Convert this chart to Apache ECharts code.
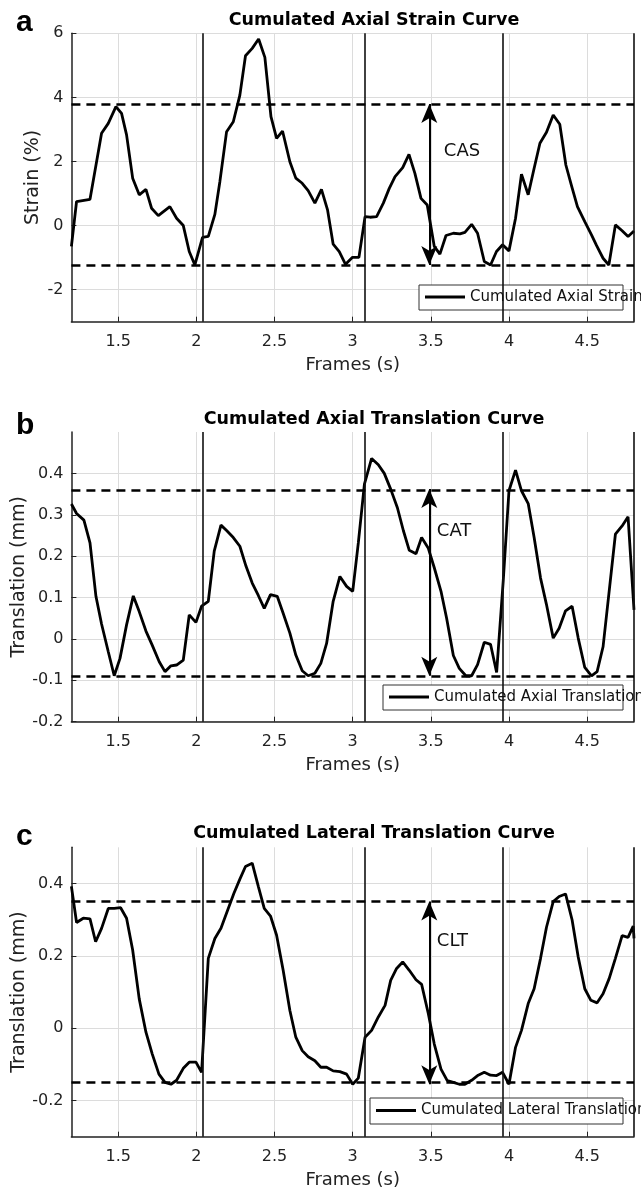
<!DOCTYPE html>
<html>
<head>
<meta charset="utf-8">
<title>Cumulated curves</title>
<script src="https://cdn.jsdelivr.net/npm/echarts@6/dist/echarts.min.js"></script>
<style>
  html, body { margin: 0; padding: 0; background: #fff; }
  #chart { width: 641px; height: 1192px; }
</style>
</head>
<body>
<div id="chart"></div>
<script>
// curves: [time (s), value]
const strainCurve = [
  [1.200,-0.65],[1.233,0.75],[1.319,0.82],[1.393,2.88],[1.436,3.19],[1.485,3.71],[1.521,3.50],
  [1.553,2.83],[1.592,1.48],[1.634,0.96],[1.677,1.13],[1.713,0.54],[1.756,0.31],[1.830,0.59],
  [1.873,0.23],[1.916,0.00],[1.954,-0.81],[1.990,-1.23],[2.039,-0.37],[2.076,-0.34],[2.118,0.35],
  [2.150,1.37],[2.193,2.93],[2.236,3.24],[2.278,4.07],[2.314,5.30],[2.357,5.53],[2.398,5.82],
  [2.438,5.25],[2.477,3.40],[2.513,2.72],[2.551,2.95],[2.598,1.99],[2.636,1.48],[2.677,1.32],
  [2.715,1.09],[2.758,0.70],[2.800,1.13],[2.839,0.49],[2.875,-0.58],[2.914,-0.81],[2.954,-1.21],
  [2.999,-0.99],[3.040,-0.99],[3.079,0.28],[3.111,0.26],[3.153,0.28],[3.196,0.70],[3.234,1.16],
  [3.271,1.53],[3.320,1.81],[3.360,2.22],[3.398,1.63],[3.437,0.85],[3.477,0.64],[3.522,-0.65],
  [3.558,-0.89],[3.597,-0.31],[3.644,-0.24],[3.686,-0.26],[3.718,-0.21],[3.761,0.04],[3.799,-0.24],
  [3.842,-1.12],[3.882,-1.23],[3.920,-0.81],[3.959,-0.60],[4.000,-0.79],[4.042,0.23],[4.080,1.60],
  [4.123,0.96],[4.161,1.79],[4.198,2.57],[4.240,2.91],[4.283,3.45],[4.325,3.16],[4.364,1.89],
  [4.400,1.25],[4.438,0.59],[4.485,0.12],[4.528,-0.29],[4.560,-0.62],[4.602,-1.02],[4.639,-1.23],
  [4.681,0.02],[4.724,-0.16],[4.762,-0.34],[4.800,-0.17]
];
const axialCurve = [
  [1.200,0.326],[1.233,0.303],[1.280,0.287],[1.319,0.232],[1.357,0.103],[1.393,0.036],[1.436,-0.031],
  [1.474,-0.089],[1.511,-0.047],[1.553,0.034],[1.596,0.104],[1.634,0.066],[1.677,0.019],[1.717,-0.015],
  [1.762,-0.055],[1.799,-0.079],[1.837,-0.065],[1.873,-0.063],[1.916,-0.051],[1.954,0.058],[1.997,0.040],
  [2.033,0.079],[2.076,0.091],[2.114,0.212],[2.157,0.275],[2.193,0.262],[2.236,0.245],[2.278,0.224],
  [2.317,0.176],[2.357,0.135],[2.396,0.105],[2.434,0.074],[2.474,0.107],[2.517,0.103],[2.555,0.062],
  [2.598,0.014],[2.636,-0.039],[2.677,-0.077],[2.715,-0.089],[2.758,-0.083],[2.796,-0.059],[2.833,-0.011],
  [2.875,0.091],[2.918,0.151],[2.961,0.127],[3.000,0.115],[3.036,0.232],[3.075,0.374],[3.121,0.436],
  [3.164,0.421],[3.202,0.400],[3.243,0.362],[3.286,0.317],[3.324,0.262],[3.362,0.214],[3.405,0.206],
  [3.441,0.245],[3.484,0.219],[3.522,0.172],[3.565,0.115],[3.601,0.050],[3.644,-0.040],[3.682,-0.071],
  [3.724,-0.089],[3.761,-0.089],[3.799,-0.062],[3.842,-0.008],[3.882,-0.013],[3.921,-0.081],[3.963,0.139],
  [4.000,0.358],[4.042,0.408],[4.080,0.358],[4.123,0.327],[4.161,0.245],[4.202,0.147],[4.240,0.083],
  [4.283,0.002],[4.321,0.026],[4.362,0.068],[4.404,0.079],[4.443,0.002],[4.485,-0.069],[4.528,-0.089],
  [4.564,-0.079],[4.602,-0.019],[4.641,0.115],[4.681,0.253],[4.724,0.273],[4.762,0.295],[4.800,0.070]
];
const lateralCurve = [
  [1.200,0.392],[1.233,0.292],[1.276,0.304],[1.319,0.302],[1.355,0.239],[1.393,0.276],[1.436,0.331],
  [1.474,0.331],[1.515,0.333],[1.553,0.304],[1.592,0.216],[1.634,0.081],[1.677,-0.011],[1.717,-0.071],
  [1.760,-0.127],[1.799,-0.150],[1.837,-0.155],[1.873,-0.144],[1.916,-0.111],[1.954,-0.094],[1.997,-0.094],
  [2.033,-0.122],[2.076,0.193],[2.118,0.248],[2.157,0.276],[2.199,0.325],[2.240,0.373],[2.278,0.412],
  [2.314,0.447],[2.357,0.456],[2.396,0.392],[2.434,0.331],[2.474,0.310],[2.513,0.257],[2.555,0.160],
  [2.598,0.049],[2.636,-0.025],[2.677,-0.062],[2.715,-0.079],[2.758,-0.090],[2.796,-0.108],[2.833,-0.108],
  [2.875,-0.118],[2.918,-0.120],[2.961,-0.127],[3.000,-0.155],[3.036,-0.138],[3.079,-0.025],[3.121,-0.006],
  [3.164,0.031],[3.207,0.063],[3.243,0.132],[3.281,0.165],[3.320,0.183],[3.362,0.160],[3.405,0.134],
  [3.441,0.121],[3.484,0.040],[3.522,-0.044],[3.565,-0.113],[3.605,-0.145],[3.644,-0.150],[3.682,-0.155],
  [3.718,-0.155],[3.761,-0.144],[3.803,-0.130],[3.842,-0.122],[3.882,-0.130],[3.921,-0.131],[3.959,-0.122],
  [4.000,-0.155],[4.042,-0.053],[4.080,-0.006],[4.123,0.068],[4.161,0.109],[4.202,0.193],[4.240,0.279],
  [4.283,0.350],[4.321,0.364],[4.362,0.371],[4.404,0.299],[4.443,0.197],[4.485,0.109],[4.524,0.077],
  [4.564,0.070],[4.602,0.095],[4.641,0.137],[4.681,0.193],[4.724,0.256],[4.762,0.251],[4.795,0.282],
  [4.800,0.248]
];

// tick labels
const xTicks = [1.5, 2, 2.5, 3, 3.5, 4, 4.5];
const strainTicks = [-2, 0, 2, 4, 6];
const axialTicks = [-0.2, -0.1, 0, 0.1, 0.2, 0.3, 0.4];
const lateralTicks = [-0.2, 0, 0.2, 0.4];

// cycle boundaries (solid vertical lines), min/max levels (dashed) and arrow position
const cycleMarks = [2.04, 3.08, 3.96, 4.8];
const strainLevels = [-1.23, 3.79];
const axialLevels = [-0.089, 0.362];
const lateralLevels = [-0.155, 0.35];
const arrowX = 3.49;

const letters = ['a', 'b', 'c'];
const titles = ['Cumulated Axial Strain Curve', 'Cumulated Axial Translation Curve', 'Cumulated Lateral Translation Curve'];
const names = ['Cumulated Axial Strain', 'Cumulated Axial Translation', 'Cumulated Lateral Translation'];
const yNames = ['Strain (%)', 'Translation (mm)', 'Translation (mm)'];
const arrowLabels = ['CAS', 'CAT', 'CLT'];
const arrowLabelAt = [[3.58, 2.33], [3.535, 0.26], [3.535, 0.239]];

const font = 'DejaVu Sans';
const ink = '#222';

// one entry per panel: layout only
const panels = [
  { data: strainCurve, ticks: strainTicks, ymin: -3, ymax: 6, levels: strainLevels,
    top: 33.3, height: 288.4, nameGap: 29, titleTop: 11, letterTop: 8,
    box: [419, 285, 204, 25], legendLeft: 425 },
  { data: axialCurve, ticks: axialTicks, ymin: -0.2, ymax: 0.5, levels: axialLevels,
    top: 432, height: 289.7, nameGap: 43, titleTop: 410, letterTop: 411,
    box: [383, 685, 240, 25], legendLeft: 389 },
  { data: lateralCurve, ticks: lateralTicks, ymin: -0.3, ymax: 0.5, levels: lateralLevels,
    top: 847.3, height: 289.4, nameGap: 43, titleTop: 824, letterTop: 822,
    box: [370, 1098, 253, 26], legendLeft: 376 }
];

const txt = (size, extra) => Object.assign({ fontFamily: font, fontSize: size, color: ink }, extra || {});

let grid = [], xAxis = [], yAxis = [], series = [], title = [], legend = [], graphic = [];

panels.forEach((p, i) => {
  grid.push({ left: 71.4, right: 7, top: p.top, height: p.height });

  title.push({ text: titles[i], left: 374, textAlign: 'center', top: p.titleTop, padding: 0,
    textStyle: txt(17.5, { fontWeight: 'bold', color: '#000' }) });
  title.push({ text: letters[i], left: 16, top: p.letterTop, padding: 0,
    textStyle: { fontFamily: 'Liberation Sans', fontSize: 30, fontWeight: 'bold', color: '#000' } });

  xAxis.push({
    gridIndex: i, type: 'value', min: 1.2, max: 4.8,
    name: 'Frames (s)', nameLocation: 'middle', nameGap: 35, nameTextStyle: txt(18),
    axisLine: { show: true, onZero: false, lineStyle: { color: ink, width: 1.5 } },
    axisTick: { show: true, inside: true, length: 5, customValues: xTicks, lineStyle: { color: ink } },
    axisLabel: { customValues: xTicks, margin: 12, ...txt(16) },
    splitLine: { show: true, lineStyle: { color: '#dcdcdc', width: 1 } }
  });
  yAxis.push({
    gridIndex: i, type: 'value', min: p.ymin, max: p.ymax,
    name: yNames[i], nameLocation: 'middle', nameGap: p.nameGap, nameMoveOverlap: false,
    nameTextStyle: txt(19),
    axisLine: { show: true, onZero: false, lineStyle: { color: ink, width: 1.5 } },
    axisTick: { show: true, inside: true, length: 5, customValues: p.ticks, lineStyle: { color: ink } },
    axisLabel: { customValues: p.ticks, margin: 8, ...txt(16) },
    splitLine: { show: true, lineStyle: { color: '#dcdcdc', width: 1 } }
  });

  const marks = cycleMarks.map(v => ({ xAxis: v, lineStyle: { type: 'solid', width: 1.6, color: '#111' } }));
  p.levels.forEach(v => marks.push({ yAxis: v, lineStyle: { type: [9, 6], width: 2.5, color: '#000' } }));
  marks.push([
    { coord: [arrowX, p.levels[0]], symbol: 'arrow', symbolSize: [12, 19],
      lineStyle: { type: 'solid', width: 2, color: '#000' } },
    { coord: [arrowX, p.levels[1]], symbol: 'arrow', symbolSize: [12, 19] }
  ]);

  series.push({
    name: names[i], type: 'line', xAxisIndex: i, yAxisIndex: i,
    data: p.data, showSymbol: false, symbol: 'none', color: '#000',
    lineStyle: { color: '#000', width: 2.8 },
    markLine: { silent: true, symbol: ['none', 'none'], label: { show: false }, data: marks },
    markPoint: {
      silent: true,
      data: [{ coord: arrowLabelAt[i], symbol: 'circle', symbolSize: 1, itemStyle: { color: 'rgba(0,0,0,0)' },
        label: { show: true, position: 'right', distance: 0, formatter: arrowLabels[i], ...txt(18, { color: '#111' }) } }]
    }
  });

  const b = p.box;
  graphic.push({ type: 'rect', z: 3, shape: { x: b[0], y: b[1], width: b[2], height: b[3] },
    style: { fill: '#fff', stroke: '#333', lineWidth: 1 } });
  legend.push({ data: [names[i]], left: p.legendLeft, top: b[1] + b[3] / 2 - 8, padding: 0, z: 10,
    icon: 'rect', itemWidth: 40, itemHeight: 3, selectedMode: false,
    textStyle: txt(15, { color: '#111' }) });
});

const chart = echarts.init(document.getElementById('chart'));
chart.setOption({
  animation: false,
  backgroundColor: '#fff',
  title, grid, xAxis, yAxis, series, legend, graphic
});
</script>
</body>
</html>
